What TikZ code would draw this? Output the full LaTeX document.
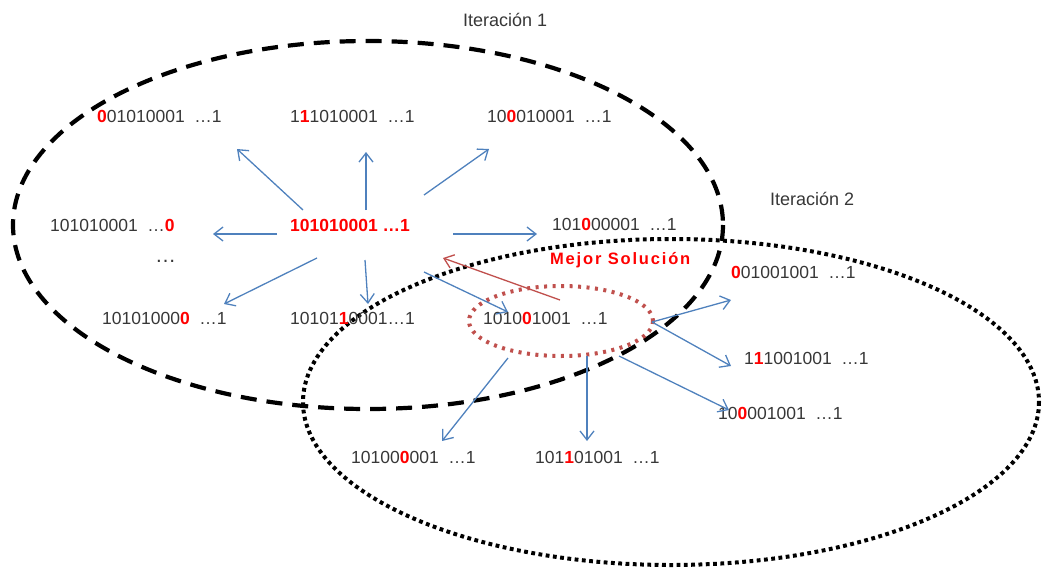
\documentclass[tikz,border=0pt]{standalone}
\usepackage{fontspec}
\setmainfont{Liberation Sans}
\newfontfamily\spacedsans[LetterSpace=11]{Liberation Sans}
\usetikzlibrary{arrows.meta}
\definecolor{txtgray}{RGB}{55,55,55}
\definecolor{hlred}{RGB}{255,0,0}
\definecolor{arrblue}{RGB}{79,129,189}
\definecolor{arrred}{RGB}{192,80,77}
\newcommand{\hl}[1]{\textcolor{hlred}{\bfseries #1}}
\newcommand{\gap}{\hspace{9.7pt}}
\tikzset{
  bits/.style={anchor=base west, inner sep=0pt, text=txtgray,
    font=\fontsize{17.5}{21}\selectfont},
  title/.style={anchor=base west, inner sep=0pt, text=txtgray,
    font=\fontsize{18}{22}\selectfont},
  arr/.style={draw=arrblue, line width=1.3pt,
    -{Straight Barb[length=9pt,width=14pt]}},
  redarr/.style={draw=arrred, line width=1.3pt,
    -{Straight Barb[length=9pt,width=14pt]}},
  iterone/.style={draw=black, line width=4.2pt, dash pattern=on 16pt off 10pt},
  itertwo/.style={draw=black, line width=4pt, dash pattern=on 3.8pt off 3.5pt},
  bestring/.style={draw=arrred, line width=4pt, dash pattern=on 3pt off 5.5pt},
}
\begin{document}
\begin{tikzpicture}[x=1pt,y=-1pt]
\useasboundingbox (0,0) rectangle (1042,568);

% search neighbourhoods
\draw[iterone] (368,225) ellipse [x radius=355, y radius=184];
\draw[itertwo] (671,402) ellipse [x radius=368, y radius=163];
\draw[bestring] (561,321) ellipse [x radius=92, y radius=35];

% titles
\node[title] (it1) at (463,26) {Iteración 1};
\node[title] (it2) at (770,205) {Iteración 2};

% first iteration: current solution and its neighbours
\node[bits, text=hlred, font=\fontsize{17.5}{21}\selectfont\bfseries] (cur) at (290,231) {101010001 …1};
\node[bits] (n1) at (97,122)  {\hl{0}01010001\gap…1};
\node[bits] (n2) at (290,122) {1\hl{1}1010001\gap…1};
\node[bits] (n3) at (487,122) {10\hl{0}010001\gap…1};
\node[bits] (n4) at (50,231)  {101010001\gap…\hl{0}};
\node[bits] (n5) at (552,230) {101\hl{0}00001\gap…1};
\node[bits, font=\fontsize{21}{24}\selectfont] (more) at (155,262) {…};
\node[bits] (n6) at (102,324) {10101000\hl{0}\gap…1};
\node[bits] (n7) at (290,324) {10101\hl{1}0001…1};
\node[bits] (best) at (483,324) {1010\hl{0}1001\gap…1};

\node[anchor=base west, inner sep=0pt, text=hlred,
  font=\fontsize{16.5}{20}\spacedsans\bfseries] (bestlbl) at (550,264) {Mejor Solución};

% second iteration: neighbours of the best solution
\node[bits] (m1) at (731,278) {\hl{0}01001001\gap…1};
\node[bits] (m2) at (744,364) {1\hl{1}1001001\gap…1};
\node[bits] (m3) at (718,419) {10\hl{0}001001\gap…1};
\node[bits] (m4) at (351,463) {10100\hl{0}001\gap…1};
\node[bits] (m5) at (535,463) {101\hl{1}01001\gap…1};

% arrow ends
\coordinate (c-nw) at (303,210);  \coordinate (h-nw) at (237,149);
\coordinate (c-n)  at (366,210);  \coordinate (h-n)  at (366,152);
\coordinate (c-ne) at (424,195);  \coordinate (h-ne) at (489,149);
\coordinate (c-w)  at (277,234);  \coordinate (h-w)  at (213,234);
\coordinate (c-e)  at (453,234);  \coordinate (h-e)  at (537,234);
\coordinate (c-sw) at (317,258);  \coordinate (h-sw) at (224,304);
\coordinate (c-s)  at (365,260);  \coordinate (h-s)  at (368,304);
\coordinate (c-se) at (424,272);  \coordinate (h-se) at (508,312);
\coordinate (b-back) at (560,300); \coordinate (h-back) at (443,258);
\coordinate (b-e)  at (652,322);
\coordinate (g-ne) at (731,300);  \coordinate (g-e) at (731,366);
\coordinate (b-se) at (619,356);  \coordinate (g-se) at (729,410);
\coordinate (b-s)  at (587,356);  \coordinate (g-s)  at (587,441);
\coordinate (b-sw) at (508,358);  \coordinate (g-sw) at (442,441);

% moves of the first iteration
\draw[arr] (c-nw) -- (h-nw);
\draw[arr] (c-n)  -- (h-n);
\draw[arr] (c-ne) -- (h-ne);
\draw[arr] (c-w)  -- (h-w);
\draw[arr] (c-e)  -- (h-e);
\draw[arr] (c-sw) -- (h-sw);
\draw[arr] (c-s)  -- (h-s);
\draw[arr] (c-se) -- (h-se);

% best solution becomes the new current one
\draw[redarr] (b-back) -- (h-back);

% moves of the second iteration
\draw[arr] (b-e)  -- (g-ne);
\draw[arr] (b-e)  -- (g-e);
\draw[arr] (b-se) -- (g-se);
\draw[arr] (b-s)  -- (g-s);
\draw[arr] (b-sw) -- (g-sw);
\end{tikzpicture}
\end{document}
